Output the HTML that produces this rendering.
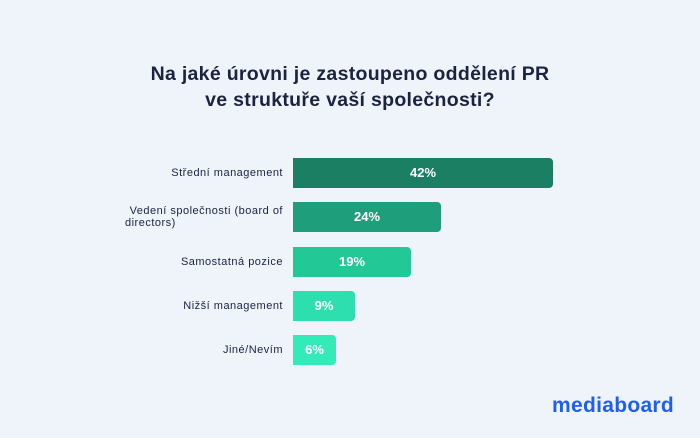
<!DOCTYPE html>
<html><head><meta charset="utf-8"><style>
body{margin:0;width:700px;height:438px;background:#eff3fa;font-family:"Liberation Sans",sans-serif;position:relative;overflow:hidden}
.t{position:absolute;left:0;width:700px;text-align:center;font-weight:bold;font-size:19.5px;letter-spacing:0.3px;color:#1b2341;line-height:26px;top:61px}
.l{position:absolute;right:417px;text-align:right;font-size:11px;letter-spacing:0.5px;color:#1b2341;line-height:12px}
.b{position:absolute;left:293px;height:30px;border-radius:0 4px 4px 0;color:#fff;font-weight:bold;font-size:13px;line-height:30px;text-align:center}
.logo{position:absolute;left:552px;top:394px;font-size:21px;font-weight:bold;color:#1f5ef2;letter-spacing:0.3px}
</style></head><body>
<div class="t">Na jaké úrovni je zastoupeno oddělení PR<br>ve struktuře vaší společnosti?</div>
<div class="l" style="top:167px">Střední management</div>
<div class="l" style="top:205px">Vedení společnosti (board of<br><span style="display:inline-block;width:158px;text-align:left">directors)</span></div>
<div class="l" style="top:256px">Samostatná pozice</div>
<div class="l" style="top:300px">Nižší management</div>
<div class="l" style="top:344px">Jiné/Nevím</div>
<div class="b" style="top:158px;width:260px;background:#1b8063">42%</div>
<div class="b" style="top:202px;width:148px;background:#1e9e7b">24%</div>
<div class="b" style="top:247px;width:118px;background:#22c997">19%</div>
<div class="b" style="top:291px;width:62px;background:#2ddfaf">9%</div>
<div class="b" style="top:335px;width:43px;background:#33ebb9">6%</div>
<div class="logo">mediaboard</div>
</body></html>
